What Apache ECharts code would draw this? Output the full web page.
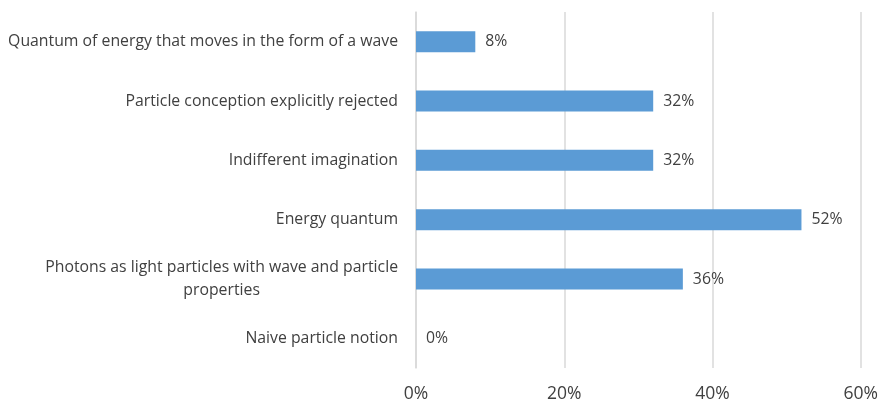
<!DOCTYPE html>
<html>
<head>
<meta charset="utf-8">
<script src="https://cdn.jsdelivr.net/npm/echarts@6/dist/echarts.min.js"></script>
<style>
  html, body { margin: 0; padding: 0; background: #ffffff; }
  #chart { width: 881px; height: 403px; }
</style>
</head>
<body>
<div id="chart"></div>
<script>
// Conceptions of the photon (share of answers), listed bottom to top
const categories = [
  'Naive particle notion',
  'Photons as light particles with wave and particle properties',
  'Energy quantum',
  'Indifferent imagination',
  'Particle conception explicitly rejected',
  'Quantum of energy that moves in the form of a wave'
];
const shares = [0, 36, 52, 32, 32, 8];
const tickValues = [0, 20, 40, 60];

const FONT = '"Open Sans", "Noto Sans", sans-serif';
const CAT_SIZE = 15.8;

const chart = echarts.init(document.getElementById('chart'), null, { renderer: 'canvas' });

chart.setOption({
  backgroundColor: '#ffffff',
  animation: false,
  grid: { left: 416, right: 19, top: 12, bottom: 33, containLabel: false },
  xAxis: {
    type: 'value',
    min: tickValues[0],
    max: tickValues[tickValues.length - 1],
    interval: 20,
    axisLine: { show: false },
    axisTick: { show: false },
    splitLine: { show: true, lineStyle: { color: '#d9d9d9', width: 1.5 } },
    axisLabel: {
      formatter: v => v + '%',
      color: '#404040',
      fontFamily: FONT,
      fontSize: 17.5,
      margin: 17
    }
  },
  yAxis: {
    type: 'category',
    data: categories,
    axisLine: { show: true, lineStyle: { color: '#d9d9d9', width: 1.5 } },
    axisTick: { show: false },
    splitLine: { show: false },
    axisLabel: {
      color: '#404040',
      fontFamily: FONT,
      fontSize: CAT_SIZE,
      margin: 18,
      formatter: function (name) {
        if (name.indexOf('Photons') === 0) {
          // long label wraps onto two centred lines
          return '{c|Photons as light particles with wave and particle}\n{c|properties}';
        }
        return '{r|' + name + '}';
      },
      rich: {
        c: { align: 'center', color: '#404040', fontFamily: FONT, fontSize: CAT_SIZE, lineHeight: 23 },
        r: { color: '#404040', fontFamily: FONT, fontSize: CAT_SIZE }
      }
    }
  },
  series: [{
    type: 'bar',
    data: shares,
    barWidth: 21,
    itemStyle: { color: '#5b9bd5' },
    label: {
      show: true,
      position: 'right',
      distance: 10,
      formatter: p => p.value + '%',
      color: '#404040',
      fontFamily: FONT,
      fontSize: 15.8
    }
  }]
});
</script>
</body>
</html>
